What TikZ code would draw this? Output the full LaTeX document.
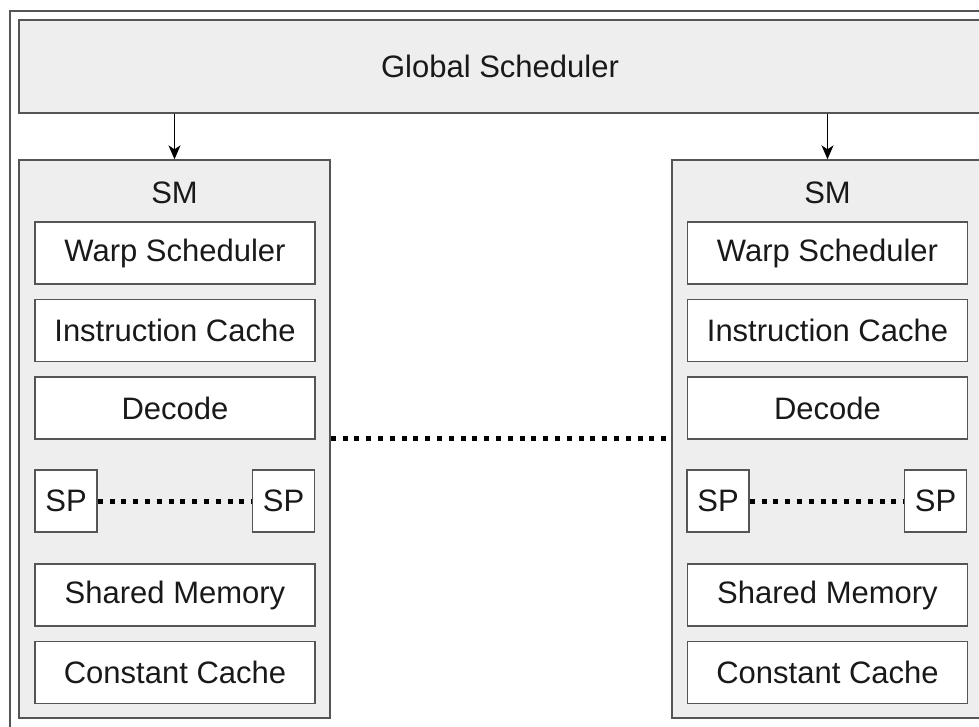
\documentclass[tikz,border=0pt]{standalone}
\usepackage{fontspec}
\setmainfont{Liberation Sans}
\usetikzlibrary{arrows.meta}
\definecolor{bordercol}{RGB}{85,85,85}
\definecolor{fillgray}{RGB}{238,238,238}
\definecolor{txtcol}{RGB}{25,25,25}
\begin{document}
\begin{tikzpicture}[x=1pt,y=-1pt,
  lbl/.style={font=\fontsize{31}{37}\selectfont, text=txtcol},
  outerbox/.style={draw=bordercol, line width=1.4pt, fill=fillgray, inner sep=0pt},
  unitbox/.style={draw=bordercol, line width=1.4pt, fill=white, minimum width=280pt, minimum height=62pt, inner sep=0pt, lbl},
  spbox/.style={draw=bordercol, line width=1.4pt, fill=white, minimum width=62pt, minimum height=62pt, inner sep=0pt, lbl},
  dotline/.style={line width=5pt, dash pattern=on 5pt off 6.8pt, black},
  arr/.style={line width=1.3pt, black, -{Stealth[length=14pt,width=12pt,inset=4pt]}}]
\useasboundingbox (0,0) rectangle (979,727);
\clip (0,0) rectangle (979,727);
\fill[white] (0,0) rectangle (979,727);
% outer frame
\draw[bordercol, line width=1.6pt] (10,11) rectangle (992,745);
% global scheduler
\node[outerbox, minimum width=962pt, minimum height=93pt, lbl] (global) at (500,66.5) {Global Scheduler};
% SM boxes
\node[outerbox, minimum width=311pt, minimum height=558pt] (smL) at (174.5,439) {};
\node[outerbox, minimum width=311pt, minimum height=558pt] (smR) at (827.5,439) {};
\node[lbl] (smLt) at (174.5,193) {SM};
\node[lbl] (smRt) at (827.5,193) {SM};
% left SM units
\node[unitbox] (wsL) at (175,253) {Warp Scheduler};
\node[unitbox] (icL) at (175,330.5) {Instruction Cache};
\node[unitbox] (deL) at (175,408) {Decode};
\node[spbox] (sp1L) at (66,501) {SP};
\node[spbox] (sp2L) at (283.5,501) {SP};
\node[unitbox] (shL) at (175,595) {Shared Memory};
\node[unitbox] (ccL) at (175,672.5) {Constant Cache};
% right SM units
\node[unitbox] (wsR) at (827.5,253) {Warp Scheduler};
\node[unitbox] (icR) at (827.5,330.5) {Instruction Cache};
\node[unitbox] (deR) at (827.5,408) {Decode};
\node[spbox] (sp1R) at (718,501) {SP};
\node[spbox] (sp2R) at (935.5,501) {SP};
\node[unitbox] (shR) at (827.5,595) {Shared Memory};
\node[unitbox] (ccR) at (827.5,672.5) {Constant Cache};
% arrows
\draw[arr] (global.south -| smL.north) -- (smL.north);
\draw[arr] (global.south -| smR.north) -- (smR.north);
% dotted links
\draw[dotline] (sp1L.east) -- (sp2L.west);
\draw[dotline] (sp1R.east) -- (sp2R.west);
\coordinate (midy) at (0,438);
\draw[dotline] (smL.east |- midy) -- (smR.west |- midy);
\end{tikzpicture}
\end{document}
